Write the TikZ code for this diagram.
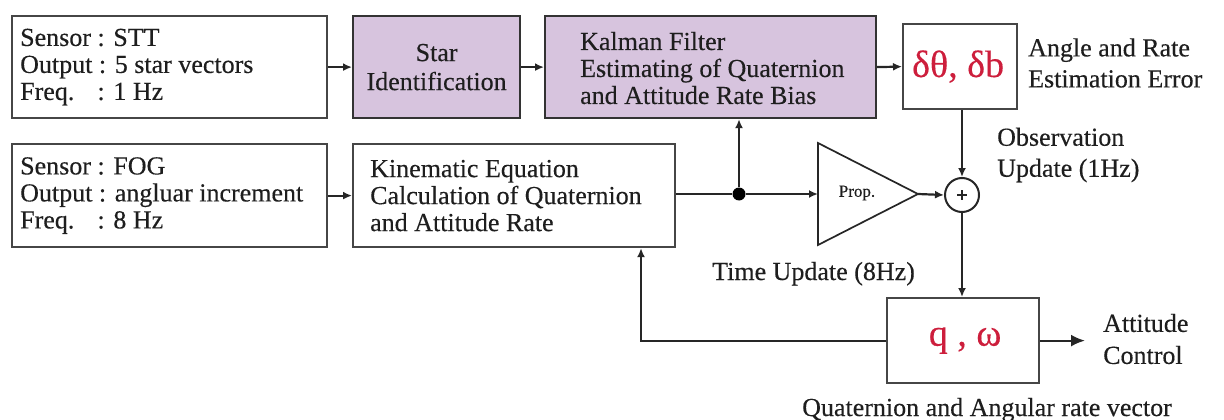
\documentclass[tikz,border=0pt]{standalone}
\usepackage{fontspec}
\setmainfont[FakeBold=0.3]{Liberation Serif}
\usepackage{calc}
\usetikzlibrary{arrows.meta,calc}
\definecolor{boxline}{RGB}{70,70,70}
\definecolor{kfill}{RGB}{215,196,222}
\definecolor{errred}{RGB}{205,30,60}
\definecolor{txtc}{RGB}{30,30,30}
\begin{document}
\begin{tikzpicture}[x=1pt,y=-1pt,
  blk/.style={draw=boxline, line width=2.2pt, inner sep=0pt, anchor=north west},
  pblk/.style={blk, fill=kfill, draw=black!80},
  txt/.style={text=txtc, align=left, inner sep=0pt, font=\fontsize{26}{27}\selectfont},
  lbl/.style={text=txtc, align=left, inner sep=0pt, font=\fontsize{26}{31}\selectfont},
  conn/.style={draw=black!85, line width=2.2pt},
  arr/.style={conn, -{Latex[length=9pt,width=8pt]}},
  bigarr/.style={conn, -{Latex[length=14pt,width=12pt]}},
  errtxt/.style={text=errred, font=\fontsize{38}{40}\selectfont}
]
\useasboundingbox[fill=white] (0,0) rectangle (1224,420);

% top row
\node[blk, minimum width=315pt, minimum height=102pt] (stt) at (11,15) {};
\node[txt, anchor=west] (stttxt) at ($(stt.west)+(9,0)$)
  {Sensor : STT\\Output : 5 star vectors\\\makebox[\widthof{Sensor }][l]{Freq.}: 1 Hz};
\node[pblk, minimum width=167pt, minimum height=102pt] (star) at (352,15) {};
\node[txt, align=center, font=\fontsize{26}{29}\selectfont] (startxt) at (star.center) {Star\\Identification};
\node[pblk, minimum width=331pt, minimum height=102pt] (kal) at (544,15) {};
\node[txt, anchor=west] (kaltxt) at ($(kal.west)+(36,1)$)
  {Kalman Filter\\Estimating of Quaternion\\and Attitude Rate Bias};
\node[blk, minimum width=114pt, minimum height=85pt, fill=white] (dtb) at (902,23) {};
\node[errtxt] (dtbtxt) at ($(dtb.center)+(-2,0)$) {δθ, δb};
\node[lbl, anchor=west] (anglbl) at (1028,63) {Angle and Rate\\Estimation Error};

% second row
\node[blk, minimum width=315pt, minimum height=103pt] (fog) at (11,143) {};
\node[txt, anchor=west] (fogtxt) at ($(fog.west)+(9,0)$)
  {Sensor : FOG\\Output : angluar increment\\\makebox[\widthof{Sensor }][l]{Freq.}: 8 Hz};
\node[blk, minimum width=322pt, minimum height=103pt] (kin) at (352,143) {};
\node[txt, anchor=west] (kintxt) at ($(kin.west)+(18,0)$)
  {Kinematic Equation\\Calculation of Quaternion\\and Attitude Rate};

\node[circle, fill=black, minimum size=13pt, inner sep=0pt] (dot) at (739,194) {};
\coordinate (triin) at (818,194);
\coordinate (tritop) at (818,143);
\coordinate (tribot) at (818,245);
\coordinate (tritip) at (918,194);
\draw[conn, line width=1.7pt, line join=miter] (tritop) -- (tritip) -- (tribot) -- cycle;
\node[text=txtc, font=\fontsize{17}{17}\selectfont, inner sep=0pt] (prop) at (857,193) {Prop.};

\node[circle, draw=black!85, line width=2pt, minimum size=34pt, inner sep=0pt, fill=white] (sum) at (962,195) {};
\draw[conn, line width=1.6pt] ($(sum.center)+(-5,0)$) -- ($(sum.center)+(5,0)$);
\draw[conn, line width=1.6pt] ($(sum.center)+(0,-5)$) -- ($(sum.center)+(0,5)$);
\node[lbl, anchor=west] (obslbl) at (997,155) {Observation\\Update (1Hz)};
\node[lbl, anchor=base west] (timelbl) at (712,280) {Time Update (8Hz)};

% bottom
\node[blk, minimum width=152pt, minimum height=85pt] (q) at (886,297) {};
\node[errtxt] (qtxt) at ($(q.center)+(2,0)$) {q , ω};
\coordinate (fbc) at (641,339);
\coordinate (att) at (1085,339);
\node[lbl, anchor=west, font=\fontsize{26}{32}\selectfont] (attlbl) at (1103,339) {Attitude\\Control};
\node[lbl, anchor=base west] (quatlbl) at (802,416) {Quaternion and Angular rate vector};

% connectors
\draw[arr] (stt.east) -- (star.west);
\draw[arr] (star.east) -- (kal.west);
\draw[arr] (kal.east) -- (dtb.west);
\draw[arr] (fog.east) -- (kin.west);
\draw[conn] (kin.east |- dot) -- (dot);
\draw[arr] (dot) -- (triin);
\draw[arr] (dot) -- (dot |- kal.south);
\draw[arr] (tritip) -- (sum.west);
\draw[arr] (sum |- dtb.south) -- (sum.north);
\draw[arr] (sum.south) -- (sum |- q.north);
\draw[arr] (q.west) -- (q.west -| fbc) -- (fbc |- kin.south);
\draw[bigarr] (q.east) -- (q.east -| att);
\end{tikzpicture}
\end{document}
